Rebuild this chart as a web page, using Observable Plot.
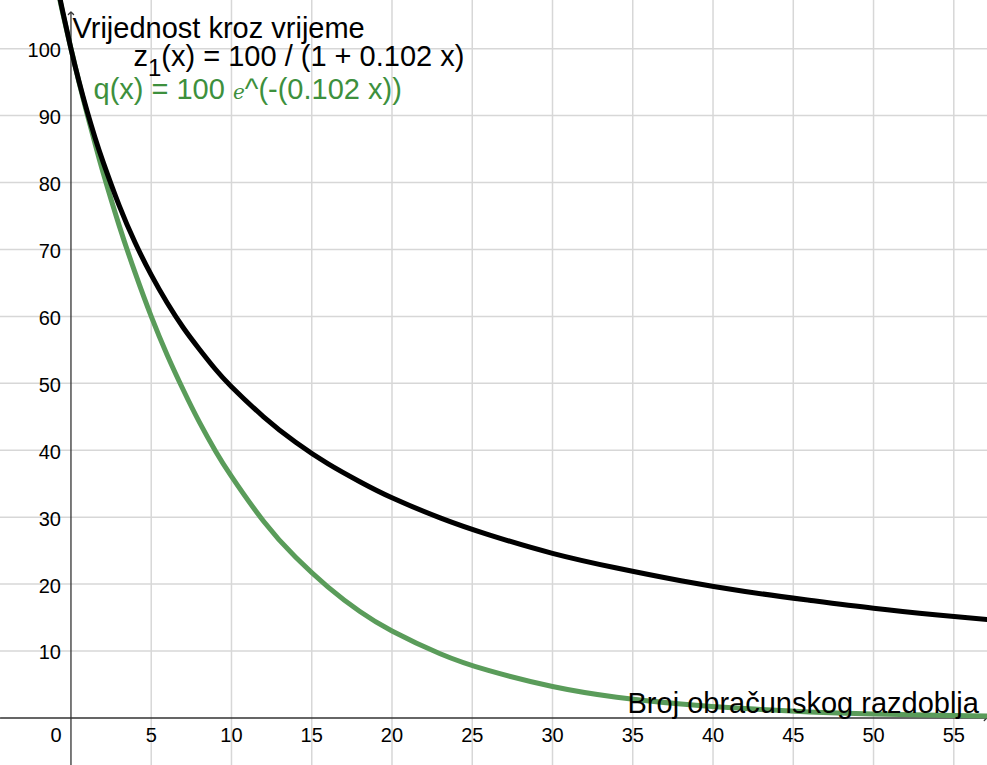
<!DOCTYPE html>
<html>
<head>
<meta charset="utf-8">
<script src="https://cdn.jsdelivr.net/npm/d3@7"></script>
<script src="https://cdn.jsdelivr.net/npm/@observablehq/plot@0.6"></script>
<style>
  html, body { margin: 0; padding: 0; background: #fff; overflow: hidden; }
  #chart svg { display: block; }
</style>
</head>
<body>
<div id="chart"></div>
<script>
// Sample points
const xs      = [-0.7, -0.5, 0, 0.5, 1, 1.5, 2, 3, 4, 5, 6, 7, 8, 9, 10, 12, 14, 16, 18, 20, 23, 26, 30, 34, 38, 42, 46, 50, 54, 57.1];
const zValues = [107.7, 105.4, 100, 95.1, 90.7, 86.7, 83.1, 76.6, 71.0, 66.2, 62.0, 58.3, 55.1, 52.1, 49.5, 45.0, 41.2, 38.0, 35.3, 32.9, 29.9, 27.4, 24.6, 22.4, 20.5, 18.9, 17.6, 16.4, 15.4, 14.7];
const qValues = [107.4, 105.2, 100, 95.0, 90.3, 85.8, 81.5, 73.6, 66.5, 60.0, 54.2, 49.0, 44.2, 39.9, 36.1, 29.4, 24.0, 19.6, 15.9, 13.0, 9.6, 7.1, 4.7, 3.1, 2.1, 1.4, 0.9, 0.6, 0.4, 0.3];

const xTicks = [5, 10, 15, 20, 25, 30, 35, 40, 45, 50, 55];
const yTicks = [10, 20, 30, 40, 50, 60, 70, 80, 90, 100];

const yLabel = "Vrijednost kroz vrijeme";
const xLabel = "Broj obračunskog razdoblja";
const zLabel = "z1(x) = 100 / (1 + 0.102 x)";
const qLabel = "q(x) = 100 e^(-(0.102 x))";

const xDomain = [-4.39, 57.1];
const yDomain = [-7.1, 107.2];

const zData = xs.map((x, i) => ({x, y: zValues[i]}));
const qData = xs.map((x, i) => ({x, y: qValues[i]}));

const FONT = "'Liberation Sans', Arial, sans-serif";
const GREEN_LINE = "#5a9c5a";
const GREEN_TEXT = "#3d903d";

const chart = Plot.plot({
  width: 987,
  height: 765,
  margin: 0,
  style: {background: "#fff", fontFamily: FONT, overflow: "hidden"},
  x: {domain: xDomain, axis: null},
  y: {domain: yDomain, axis: null},
  marks: [
    Plot.ruleX(xTicks, {stroke: "#d7d7d7", strokeWidth: 1.5}),
    Plot.ruleY(yTicks, {stroke: "#d7d7d7", strokeWidth: 1.5}),
    Plot.line([[xDomain[0], 0], [56.98, 0]], {stroke: "#333", strokeWidth: 1.3, markerEnd: "arrow"}),
    Plot.line([[0, yDomain[0]], [0, 105.3]], {stroke: "#333", strokeWidth: 1.3, markerEnd: "arrow"}),
    Plot.line(qData, {x: "x", y: "y", stroke: GREEN_LINE, strokeWidth: 5, curve: "natural", clip: true}),
    Plot.line(zData, {x: "x", y: "y", stroke: "#000", strokeWidth: 5, curve: "natural", clip: true}),
    Plot.text(xTicks, {x: d => d, y: 0, text: d => String(d), dy: 18, lineAnchor: "middle", fontSize: 20, fill: "#000"}),
    Plot.text([0], {x: 0, y: 0, text: d => String(d), dx: -15, dy: 18, lineAnchor: "middle", fontSize: 20, fill: "#000"}),
    Plot.text(yTicks, {x: 0, y: d => d, text: d => String(d), dx: -10, dy: 2, textAnchor: "end", lineAnchor: "middle", fontSize: 20, fill: "#000"}),
    Plot.text([yLabel], {text: d => d, frameAnchor: "top-left", dx: 72, dy: 37, textAnchor: "start", lineAnchor: "bottom", fontSize: 29, fill: "#000"}),
    Plot.text([zLabel], {text: d => d, frameAnchor: "top-left", dx: 133, dy: 65, textAnchor: "start", lineAnchor: "bottom", fontSize: 29, fill: "#000"}),
    Plot.text([qLabel], {text: d => d, frameAnchor: "top-left", dx: 93, dy: 98, textAnchor: "start", lineAnchor: "bottom", fontSize: 29, fill: GREEN_TEXT}),
    Plot.text([xLabel], {text: d => d, frameAnchor: "top-left", dx: 627, dy: 712, textAnchor: "start", lineAnchor: "bottom", fontSize: 29, fill: "#000"})
  ]
});

document.getElementById("chart").appendChild(chart);

// Rich formatting (subscript, italic e) of the function labels
d3.select(chart).selectAll("text").each(function() {
  const t = d3.select(this);
  const s = this.textContent;
  if (s === zLabel) {
    t.text(null);
    t.append("tspan").text("z");
    t.append("tspan").attr("dy", 10).attr("font-size", 24).text("1");
    t.append("tspan").attr("dy", -10).text("(x) = 100 / (1 + 0.102 x)");
  } else if (s === qLabel) {
    t.text(null);
    t.append("tspan").text("q(x) = 100 ");
    t.append("tspan").attr("font-family", "'DejaVu Serif', 'Liberation Serif', serif").attr("font-style", "italic").attr("font-size", 20).text("e");
    t.append("tspan").text("^(-(0.102 x))");
  }
});
</script>
</body>
</html>
